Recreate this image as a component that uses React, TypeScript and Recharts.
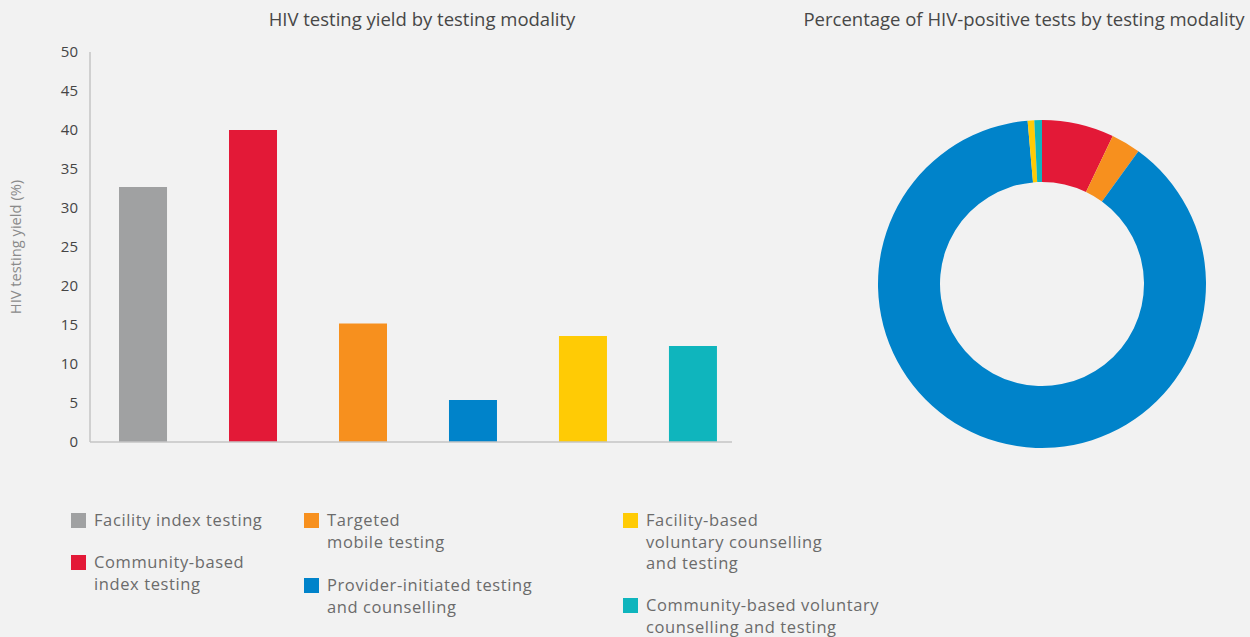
import React from "react";
import { BarChart, Bar, XAxis, YAxis, Cell, PieChart, Pie, Label } from "recharts";

const FONT = "'Open Sans', Lato, sans-serif";
const BG = "#f2f2f2";

const modalities = [
  "Facility index testing",
  "Community-based index testing",
  "Targeted mobile testing",
  "Provider-initiated testing and counselling",
  "Facility-based voluntary counselling and testing",
  "Community-based voluntary counselling and testing",
];
const legendLines = [
  ["Facility index testing"],
  ["Community-based", "index testing"],
  ["Targeted", "mobile testing"],
  ["Provider-initiated testing", "and counselling"],
  ["Facility-based", "voluntary counselling", "and testing"],
  ["Community-based voluntary", "counselling and testing"],
];
const colours = ["#a0a1a2", "#e31937", "#f7901e", "#0083ca", "#ffcb05", "#0fb5bd"];
const yieldPct = [32.7, 40.0, 15.2, 5.4, 13.6, 12.3];
const positiveShare = [0, 7.1, 2.9, 88.6, 0.65, 0.75];
const yTicks = [0, 5, 10, 15, 20, 25, 30, 35, 40, 45, 50];

const barData = modalities.map((name, i) => ({ idx: i, name, value: yieldPct[i], fill: colours[i] }));
const pieData = modalities
  .map((name, i) => ({ name, value: positiveShare[i], fill: colours[i] }))
  .filter((d) => d.value > 0);

// legend placement: column x, top of first line
const legendSlots = [
  { left: 71, top: 509 },
  { left: 71, top: 551 },
  { left: 304, top: 509 },
  { left: 304, top: 574 },
  { left: 623, top: 509 },
  { left: 623, top: 594 },
];

function YLabel({ viewBox }: any) {
  const cy = viewBox.y + viewBox.height / 2;
  return (
    <text x={21} y={cy} transform={`rotate(-90, 21, ${cy})`} textAnchor="middle"
      fill="#8a8a8a" fontSize={14.7} fontFamily={FONT}>
      HIV testing yield (%)
    </text>
  );
}

export default function App() {
  return (
    <div style={{ position: "absolute", left: 0, top: 0, width: 1250, height: 637, background: BG, fontFamily: FONT, overflow: "hidden" }}>
      <div style={{ position: "absolute", left: 222, width: 400, top: 6, textAlign: "center", fontSize: 18.5, color: "#474747" }}>
        HIV testing yield by testing modality
      </div>
      <div style={{ position: "absolute", left: 774, width: 500, top: 6, textAlign: "center", fontSize: 18.5, color: "#474747" }}>
        Percentage of HIV-positive tests by testing modality
      </div>

      <div style={{ position: "absolute", left: 0, top: 0 }}>
        <BarChart width={760} height={470} data={barData} margin={{ top: 52, right: 28, bottom: 0, left: 0 }}>
          <XAxis type="number" dataKey="idx" domain={[-0.482, 5.355]} tick={false} tickLine={false}
            axisLine={{ stroke: "#c4c4c4", strokeWidth: 1.5 }} height={28} />
          <YAxis type="number" domain={[0, 50]} ticks={yTicks} width={90} tickLine={false} tickMargin={6}
            axisLine={{ stroke: "#c4c4c4", strokeWidth: 1.5 }}
            tick={{ fontSize: 15, fill: "#454545", fontFamily: FONT }} interval={0}>
            <Label content={<YLabel />} />
          </YAxis>
          <Bar dataKey="value" barSize={48} isAnimationActive={false}>
            {barData.map((d, i) => (
              <Cell key={i} fill={d.fill} />
            ))}
          </Bar>
        </BarChart>
      </div>

      <div style={{ position: "absolute", left: 842, top: 84 }}>
        <PieChart width={400} height={400} margin={{ top: 0, right: 0, bottom: 0, left: 0 }}>
          <Pie data={pieData} dataKey="value" nameKey="name" cx={200} cy={200} innerRadius={102} outerRadius={164}
            startAngle={90} endAngle={-270} stroke="none" isAnimationActive={false}>
            {pieData.map((d, i) => (
              <Cell key={i} fill={d.fill} />
            ))}
          </Pie>
        </PieChart>
      </div>

      {legendLines.map((lines, i) => (
        <div key={i} style={{ position: "absolute", left: legendSlots[i].left, top: legendSlots[i].top, display: "flex" }}>
          <div style={{ width: 15, height: 15, background: colours[i], marginTop: 4, marginRight: 8 }} />
          <div style={{ fontSize: 16.5, letterSpacing: 0.6, lineHeight: "21.5px", color: "#6b6b6b" }}>
            {lines.map((l, j) => (
              <div key={j}>{l}</div>
            ))}
          </div>
        </div>
      ))}
    </div>
  );
}
